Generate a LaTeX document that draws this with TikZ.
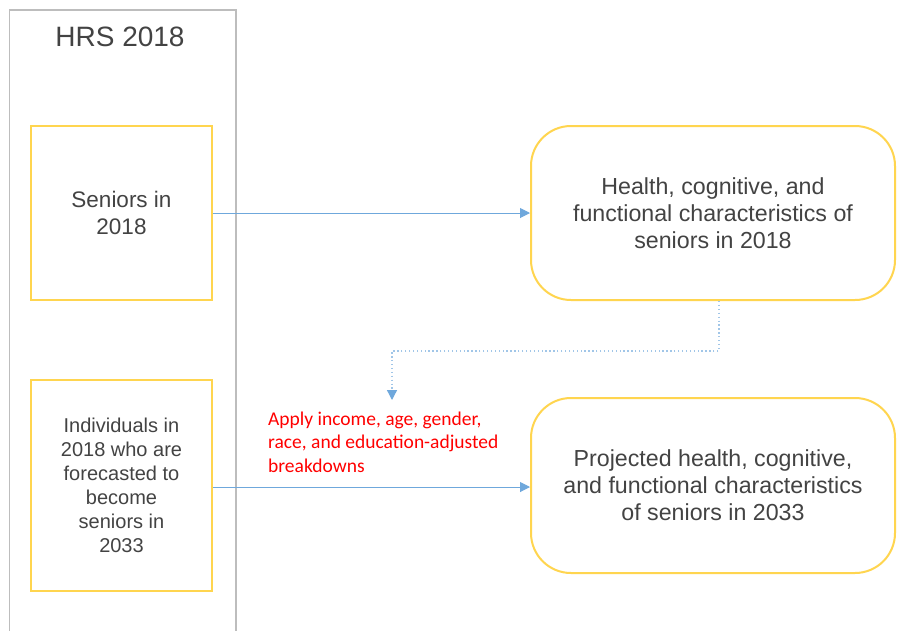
\documentclass[tikz,border=0pt]{standalone}
\usepackage{fontspec}
\setmainfont{Liberation Sans}
\newfontfamily\calib{Carlito}
\usetikzlibrary{arrows.meta}
\definecolor{frameg}{HTML}{BDBDBD}
\definecolor{ybox}{HTML}{FFD54F}
\definecolor{arrb}{HTML}{6FA8DC}
\definecolor{txtg}{HTML}{434343}
\begin{document}
\begin{tikzpicture}[x=1pt,y=-1pt,
  sqbox/.style={draw=ybox,line width=2pt,minimum width=181pt,align=center,text=txtg,inner sep=0pt},
  rbox/.style={draw=ybox,line width=2pt,rounded corners=40pt,minimum width=364pt,align=center,text=txtg,inner sep=0pt},
  conn/.style={draw=arrb,line width=1pt,-{Triangle[length=10pt,width=10pt]}},
  dconn/.style={draw=arrb!65,line width=1.3pt,dash pattern=on 1.3pt off 2.6pt,-{Triangle[length=10pt,width=10pt,fill=arrb,color=arrb]}}]
\useasboundingbox (0,0) rectangle (897,630);
\fill[white] (0,0) rectangle (897,630);
\draw[frameg,line width=1.5pt] (9.5,631) -- (9.5,10) -- (236,10) -- (236,631);
\node[text=txtg,font=\fontsize{28}{32}\selectfont] (title) at (120,37) {HRS 2018};
\node[sqbox,minimum height=174pt,font=\fontsize{22.5}{27}\selectfont] (s18) at (121.5,213) {Seniors in\\2018};
\node[sqbox,minimum height=211pt,font=\fontsize{20}{24}\selectfont] (ind) at (121.5,485.5) {Individuals in\\2018 who are\\forecasted to\\become\\seniors in\\2033};
\node[rbox,minimum height=174pt,font=\fontsize{23.2}{27}\selectfont] (hc) at (713,213) {Health, cognitive, and\\functional characteristics of\\seniors in 2018};
\node[rbox,minimum height=175pt,font=\fontsize{23.2}{27}\selectfont] (pr) at (713,485.5) {Projected health, cognitive,\\and functional characteristics\\of seniors in 2033};
\node[anchor=base west,text=red,align=left,font=\calib\fontsize{19.5}{23.5}\selectfont,inner sep=0pt] (apply) at (268,472) {Apply income, age, gender,\\race, and education-adjusted\\breakdowns};
\draw[conn] (s18.east |- 0,213) -- (hc.west |- 0,213);
\draw[conn] (ind.east |- 0,487) -- (pr.west |- 0,487);
\coordinate (d1) at (719,351);
\coordinate (d2) at (392,351);
\coordinate (d3) at (392,400);
\draw[dconn] (hc.south -| d1) -- (d1) -- (d2) -- (d3);
\end{tikzpicture}
\end{document}
